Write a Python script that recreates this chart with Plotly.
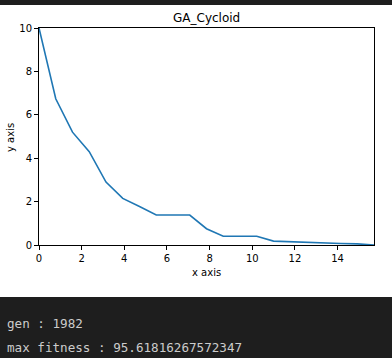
import math
import plotly.graph_objects as go

# ---- data ----
x_step = math.pi / 4
y_values = [10.0, 6.74, 5.20, 4.30, 2.90, 2.15, 1.77, 1.38, 1.38, 1.38,
            0.75, 0.40, 0.40, 0.40, 0.18, 0.15, 0.10, 0.08, 0.07, 0.05, 0.0]
x_values = [i * x_step for i in range(len(y_values))]
x_ticks = [0, 2, 4, 6, 8, 10, 12, 14]
y_ticks = [0, 2, 4, 6, 8, 10]
title_text = "GA_Cycloid"
x_label = "x axis"
y_label = "y axis"
console_lines = ["gen : 1982", "max fitness : 95.61816267572347"]

# ---- layout geometry (pixels) ----
W, H = 392, 358
L, R, T, B = 39, 374, 28, 245
pw, ph = R - L, B - T

def px_x(px):
    return (px - L) / pw

def px_y(py):
    return (B - py) / ph

dark = "#1e1e1e"

fig = go.Figure()
fig.add_trace(go.Scatter(x=x_values, y=y_values, mode="lines",
                         line=dict(color="#1f77b4", width=1.6),
                         hoverinfo="skip", showlegend=False))

axis_common = dict(showgrid=False, zeroline=False, showline=True, mirror=True,
                   linecolor="black", linewidth=1, ticks="outside", ticklen=4,
                   tickwidth=1, tickcolor="black",
                   tickfont=dict(family="DejaVu Sans", size=10, color="black"))

fig.update_layout(
    width=W, height=H,
    margin=dict(l=L, r=W - R, t=T, b=H - B, pad=0),
    paper_bgcolor="white", plot_bgcolor="white",
    xaxis=dict(range=[0, x_values[-1]], tickvals=x_ticks, **axis_common),
    yaxis=dict(range=[0, 10], tickvals=y_ticks, **axis_common),
    shapes=[
        dict(type="rect", xref="paper", yref="paper", x0=px_x(0), x1=px_x(W),
             y0=px_y(0), y1=px_y(5), fillcolor=dark, line=dict(width=0), layer="above"),
        dict(type="rect", xref="paper", yref="paper", x0=px_x(0), x1=px_x(W),
             y0=px_y(297), y1=px_y(H), fillcolor=dark, line=dict(width=0), layer="above"),
    ],
    annotations=[
        dict(text=title_text, xref="paper", yref="paper", x=0.5, y=px_y(18),
             xanchor="center", yanchor="middle", showarrow=False,
             font=dict(family="DejaVu Sans", size=12, color="black")),
        dict(text=x_label, xref="paper", yref="paper", x=px_x(206.5), y=px_y(272),
             xanchor="center", yanchor="middle", showarrow=False,
             font=dict(family="DejaVu Sans", size=10, color="black")),
        dict(text=y_label, xref="paper", yref="paper", x=px_x(10), y=px_y(137),
             xanchor="center", yanchor="middle", showarrow=False, textangle=-90,
             font=dict(family="DejaVu Sans", size=10, color="black")),
        dict(text=console_lines[0], xref="paper", yref="paper", x=px_x(5), y=px_y(324),
             xanchor="left", yanchor="middle", showarrow=False,
             font=dict(family="DejaVu Sans Mono", size=12.6, color="#cccccc")),
        dict(text=console_lines[1], xref="paper", yref="paper", x=px_x(5), y=px_y(347),
             xanchor="left", yanchor="middle", showarrow=False,
             font=dict(family="DejaVu Sans Mono", size=12.6, color="#cccccc")),
    ],
)

fig.write_html("out.html", config={"displayModeBar": False, "staticPlot": True},
               post_script="document.body.style.margin='0';document.body.style.overflow='hidden';")
